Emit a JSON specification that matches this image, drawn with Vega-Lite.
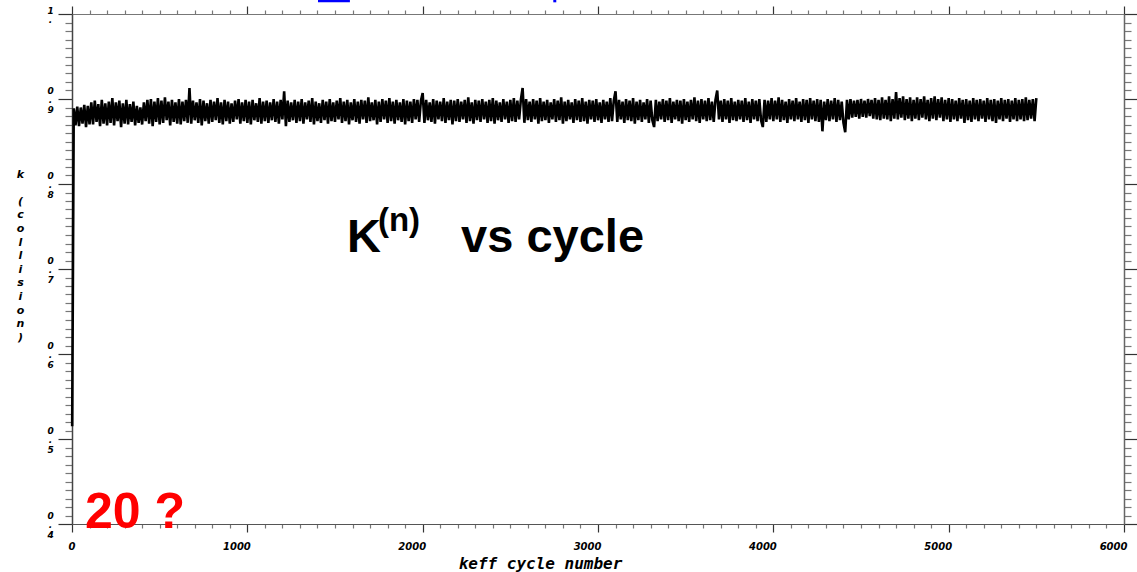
{
"$schema": "https://vega.github.io/schema/vega-lite/v6.json",
"width": 1052,
"height": 510,
"autosize": {"type": "none"},
"padding": {"left": 72, "top": 14, "right": 13, "bottom": 48},
"background": "white",
"config": {"view": {"stroke": null}},
"datasets": {
"keff": [
{"c":1,"k":0.515},
{"c":10,"k":0.889},{"c":20,"k":0.869},{"c":30,"k":0.891},{"c":40,"k":0.868},{"c":50,"k":0.890},{"c":60,"k":0.871},{"c":70,"k":0.893},{"c":80,"k":0.867},{"c":90,"k":0.892},{"c":100,"k":0.870},
{"c":110,"k":0.896},{"c":120,"k":0.870},{"c":130,"k":0.898},{"c":140,"k":0.873},{"c":150,"k":0.894},{"c":160,"k":0.868},{"c":170,"k":0.899},{"c":180,"k":0.871},{"c":190,"k":0.895},{"c":200,"k":0.869},
{"c":210,"k":0.897},{"c":220,"k":0.872},{"c":230,"k":0.901},{"c":240,"k":0.869},{"c":250,"k":0.896},{"c":260,"k":0.874},{"c":270,"k":0.898},{"c":280,"k":0.867},{"c":290,"k":0.895},{"c":300,"k":0.871},
{"c":310,"k":0.899},{"c":320,"k":0.870},{"c":330,"k":0.894},{"c":340,"k":0.873},{"c":350,"k":0.897},{"c":360,"k":0.869},{"c":370,"k":0.892},{"c":380,"k":0.872},{"c":390,"k":0.890},{"c":400,"k":0.870},
{"c":410,"k":0.896},{"c":420,"k":0.874},{"c":430,"k":0.899},{"c":440,"k":0.871},{"c":450,"k":0.900},{"c":460,"k":0.868},{"c":470,"k":0.897},{"c":480,"k":0.873},{"c":490,"k":0.901},{"c":500,"k":0.870},
{"c":510,"k":0.898},{"c":520,"k":0.872},{"c":530,"k":0.902},{"c":540,"k":0.875},{"c":550,"k":0.897},{"c":560,"k":0.869},{"c":570,"k":0.899},{"c":580,"k":0.873},{"c":590,"k":0.896},{"c":600,"k":0.871},
{"c":610,"k":0.900},{"c":620,"k":0.870},{"c":630,"k":0.897},{"c":640,"k":0.874},{"c":650,"k":0.899},{"c":660,"k":0.872},{"c":670,"k":0.913},{"c":680,"k":0.871},{"c":690,"k":0.898},{"c":700,"k":0.875},
{"c":710,"k":0.896},{"c":720,"k":0.872},{"c":730,"k":0.900},{"c":740,"k":0.869},{"c":750,"k":0.898},{"c":760,"k":0.874},{"c":770,"k":0.895},{"c":780,"k":0.871},{"c":790,"k":0.899},{"c":800,"k":0.873},
{"c":810,"k":0.897},{"c":820,"k":0.875},{"c":830,"k":0.901},{"c":840,"k":0.872},{"c":850,"k":0.896},{"c":860,"k":0.870},{"c":870,"k":0.899},{"c":880,"k":0.874},{"c":890,"k":0.897},{"c":900,"k":0.871},
{"c":910,"k":0.895},{"c":920,"k":0.873},{"c":930,"k":0.898},{"c":940,"k":0.876},{"c":950,"k":0.900},{"c":960,"k":0.871},{"c":970,"k":0.896},{"c":980,"k":0.874},{"c":990,"k":0.899},{"c":1000,"k":0.872},
{"c":1010,"k":0.897},{"c":1020,"k":0.870},{"c":1030,"k":0.899},{"c":1040,"k":0.875},{"c":1050,"k":0.895},{"c":1060,"k":0.873},{"c":1070,"k":0.901},{"c":1080,"k":0.871},{"c":1090,"k":0.897},{"c":1100,"k":0.874},
{"c":1110,"k":0.898},{"c":1120,"k":0.872},{"c":1130,"k":0.896},{"c":1140,"k":0.875},{"c":1150,"k":0.900},{"c":1160,"k":0.873},{"c":1170,"k":0.897},{"c":1180,"k":0.871},{"c":1190,"k":0.899},{"c":1200,"k":0.876},
{"c":1210,"k":0.909},{"c":1220,"k":0.868},{"c":1230,"k":0.898},{"c":1240,"k":0.873},{"c":1250,"k":0.896},{"c":1260,"k":0.875},{"c":1270,"k":0.899},{"c":1280,"k":0.872},{"c":1290,"k":0.897},{"c":1300,"k":0.874},
{"c":1310,"k":0.900},{"c":1320,"k":0.871},{"c":1330,"k":0.896},{"c":1340,"k":0.876},{"c":1350,"k":0.898},{"c":1360,"k":0.873},{"c":1370,"k":0.901},{"c":1380,"k":0.870},{"c":1390,"k":0.897},{"c":1400,"k":0.874},
{"c":1410,"k":0.895},{"c":1420,"k":0.872},{"c":1430,"k":0.899},{"c":1440,"k":0.875},{"c":1450,"k":0.897},{"c":1460,"k":0.871},{"c":1470,"k":0.900},{"c":1480,"k":0.874},{"c":1490,"k":0.896},{"c":1500,"k":0.873},
{"c":1510,"k":0.898},{"c":1520,"k":0.876},{"c":1530,"k":0.901},{"c":1540,"k":0.872},{"c":1550,"k":0.897},{"c":1560,"k":0.874},{"c":1570,"k":0.899},{"c":1580,"k":0.870},{"c":1590,"k":0.896},{"c":1600,"k":0.875},
{"c":1610,"k":0.900},{"c":1620,"k":0.873},{"c":1630,"k":0.897},{"c":1640,"k":0.871},{"c":1650,"k":0.899},{"c":1660,"k":0.876},{"c":1670,"k":0.898},{"c":1680,"k":0.872},{"c":1690,"k":0.902},{"c":1700,"k":0.874},
{"c":1710,"k":0.896},{"c":1720,"k":0.875},{"c":1730,"k":0.899},{"c":1740,"k":0.870},{"c":1750,"k":0.897},{"c":1760,"k":0.873},{"c":1770,"k":0.900},{"c":1780,"k":0.876},{"c":1790,"k":0.898},{"c":1800,"k":0.872},
{"c":1810,"k":0.901},{"c":1820,"k":0.874},{"c":1830,"k":0.897},{"c":1840,"k":0.871},{"c":1850,"k":0.899},{"c":1860,"k":0.875},{"c":1870,"k":0.896},{"c":1880,"k":0.873},{"c":1890,"k":0.900},{"c":1900,"k":0.870},
{"c":1910,"k":0.898},{"c":1920,"k":0.874},{"c":1930,"k":0.897},{"c":1940,"k":0.872},{"c":1950,"k":0.900},{"c":1960,"k":0.876},{"c":1970,"k":0.899},{"c":1980,"k":0.873},{"c":1990,"k":0.898},{"c":2000,"k":0.907},
{"c":2010,"k":0.872},{"c":2020,"k":0.899},{"c":2030,"k":0.875},{"c":2040,"k":0.896},{"c":2050,"k":0.873},{"c":2060,"k":0.900},{"c":2070,"k":0.871},{"c":2080,"k":0.898},{"c":2090,"k":0.876},{"c":2100,"k":0.897},
{"c":2110,"k":0.874},{"c":2120,"k":0.901},{"c":2130,"k":0.872},{"c":2140,"k":0.897},{"c":2150,"k":0.875},{"c":2160,"k":0.899},{"c":2170,"k":0.870},{"c":2180,"k":0.898},{"c":2190,"k":0.874},{"c":2200,"k":0.900},
{"c":2210,"k":0.873},{"c":2220,"k":0.897},{"c":2230,"k":0.876},{"c":2240,"k":0.899},{"c":2250,"k":0.872},{"c":2260,"k":0.902},{"c":2270,"k":0.874},{"c":2280,"k":0.896},{"c":2290,"k":0.871},{"c":2300,"k":0.899},
{"c":2310,"k":0.875},{"c":2320,"k":0.898},{"c":2330,"k":0.873},{"c":2340,"k":0.900},{"c":2350,"k":0.876},{"c":2360,"k":0.897},{"c":2370,"k":0.872},{"c":2380,"k":0.899},{"c":2390,"k":0.874},{"c":2400,"k":0.901},
{"c":2410,"k":0.871},{"c":2420,"k":0.898},{"c":2430,"k":0.875},{"c":2440,"k":0.896},{"c":2450,"k":0.873},{"c":2460,"k":0.900},{"c":2470,"k":0.876},{"c":2480,"k":0.897},{"c":2490,"k":0.872},{"c":2500,"k":0.899},
{"c":2510,"k":0.874},{"c":2520,"k":0.901},{"c":2530,"k":0.873},{"c":2540,"k":0.898},{"c":2550,"k":0.876},{"c":2560,"k":0.899},{"c":2570,"k":0.913},{"c":2580,"k":0.872},{"c":2590,"k":0.900},{"c":2600,"k":0.875},
{"c":2610,"k":0.897},{"c":2620,"k":0.873},{"c":2630,"k":0.900},{"c":2640,"k":0.876},{"c":2650,"k":0.898},{"c":2660,"k":0.871},{"c":2670,"k":0.901},{"c":2680,"k":0.874},{"c":2690,"k":0.897},{"c":2700,"k":0.875},
{"c":2710,"k":0.899},{"c":2720,"k":0.872},{"c":2730,"k":0.896},{"c":2740,"k":0.876},{"c":2750,"k":0.900},{"c":2760,"k":0.873},{"c":2770,"k":0.898},{"c":2780,"k":0.875},{"c":2790,"k":0.902},{"c":2800,"k":0.871},
{"c":2810,"k":0.897},{"c":2820,"k":0.874},{"c":2830,"k":0.899},{"c":2840,"k":0.876},{"c":2850,"k":0.896},{"c":2860,"k":0.872},{"c":2870,"k":0.900},{"c":2880,"k":0.875},{"c":2890,"k":0.898},{"c":2900,"k":0.873},
{"c":2910,"k":0.901},{"c":2920,"k":0.874},{"c":2930,"k":0.897},{"c":2940,"k":0.871},{"c":2950,"k":0.899},{"c":2960,"k":0.876},{"c":2970,"k":0.898},{"c":2980,"k":0.873},{"c":2990,"k":0.900},{"c":3000,"k":0.875},
{"c":3010,"k":0.896},{"c":3020,"k":0.872},{"c":3030,"k":0.899},{"c":3040,"k":0.876},{"c":3050,"k":0.897},{"c":3060,"k":0.873},{"c":3070,"k":0.901},{"c":3080,"k":0.874},{"c":3090,"k":0.898},{"c":3100,"k":0.909},
{"c":3110,"k":0.873},{"c":3120,"k":0.899},{"c":3130,"k":0.876},{"c":3140,"k":0.897},{"c":3150,"k":0.872},{"c":3160,"k":0.900},{"c":3170,"k":0.875},{"c":3180,"k":0.898},{"c":3190,"k":0.874},{"c":3200,"k":0.901},
{"c":3210,"k":0.871},{"c":3220,"k":0.897},{"c":3230,"k":0.875},{"c":3240,"k":0.899},{"c":3250,"k":0.873},{"c":3260,"k":0.896},{"c":3270,"k":0.876},{"c":3280,"k":0.900},{"c":3290,"k":0.872},{"c":3300,"k":0.898},
{"c":3310,"k":0.875},{"c":3320,"k":0.867},{"c":3330,"k":0.899},{"c":3340,"k":0.874},{"c":3350,"k":0.897},{"c":3360,"k":0.876},{"c":3370,"k":0.900},{"c":3380,"k":0.873},{"c":3390,"k":0.898},{"c":3400,"k":0.875},
{"c":3410,"k":0.901},{"c":3420,"k":0.872},{"c":3430,"k":0.897},{"c":3440,"k":0.876},{"c":3450,"k":0.899},{"c":3460,"k":0.874},{"c":3470,"k":0.898},{"c":3480,"k":0.871},{"c":3490,"k":0.900},{"c":3500,"k":0.875},
{"c":3510,"k":0.897},{"c":3520,"k":0.873},{"c":3530,"k":0.899},{"c":3540,"k":0.876},{"c":3550,"k":0.902},{"c":3560,"k":0.874},{"c":3570,"k":0.898},{"c":3580,"k":0.872},{"c":3590,"k":0.900},{"c":3600,"k":0.876},
{"c":3610,"k":0.898},{"c":3620,"k":0.874},{"c":3630,"k":0.901},{"c":3640,"k":0.875},{"c":3650,"k":0.897},{"c":3660,"k":0.873},{"c":3670,"k":0.899},{"c":3680,"k":0.910},{"c":3690,"k":0.876},{"c":3700,"k":0.898},
{"c":3710,"k":0.873},{"c":3720,"k":0.900},{"c":3730,"k":0.876},{"c":3740,"k":0.898},{"c":3750,"k":0.872},{"c":3760,"k":0.901},{"c":3770,"k":0.875},{"c":3780,"k":0.897},{"c":3790,"k":0.874},{"c":3800,"k":0.899},
{"c":3810,"k":0.876},{"c":3820,"k":0.898},{"c":3830,"k":0.873},{"c":3840,"k":0.901},{"c":3850,"k":0.875},{"c":3860,"k":0.897},{"c":3870,"k":0.872},{"c":3880,"k":0.900},{"c":3890,"k":0.876},{"c":3900,"k":0.898},
{"c":3910,"k":0.874},{"c":3920,"k":0.900},{"c":3930,"k":0.875},{"c":3940,"k":0.867},{"c":3950,"k":0.899},{"c":3960,"k":0.873},{"c":3970,"k":0.898},{"c":3980,"k":0.876},{"c":3990,"k":0.901},{"c":4000,"k":0.874},
{"c":4010,"k":0.898},{"c":4020,"k":0.876},{"c":4030,"k":0.902},{"c":4040,"k":0.873},{"c":4050,"k":0.899},{"c":4060,"k":0.875},{"c":4070,"k":0.897},{"c":4080,"k":0.872},{"c":4090,"k":0.900},{"c":4100,"k":0.876},
{"c":4110,"k":0.898},{"c":4120,"k":0.874},{"c":4130,"k":0.901},{"c":4140,"k":0.876},{"c":4150,"k":0.897},{"c":4160,"k":0.873},{"c":4170,"k":0.900},{"c":4180,"k":0.875},{"c":4190,"k":0.899},{"c":4200,"k":0.872},
{"c":4210,"k":0.901},{"c":4220,"k":0.876},{"c":4230,"k":0.898},{"c":4240,"k":0.874},{"c":4250,"k":0.900},{"c":4260,"k":0.873},{"c":4270,"k":0.899},{"c":4280,"k":0.862},{"c":4290,"k":0.897},{"c":4300,"k":0.875},
{"c":4310,"k":0.900},{"c":4320,"k":0.874},{"c":4330,"k":0.898},{"c":4340,"k":0.876},{"c":4350,"k":0.901},{"c":4360,"k":0.873},{"c":4370,"k":0.899},{"c":4380,"k":0.875},{"c":4390,"k":0.897},{"c":4400,"k":0.872},
{"c":4410,"k":0.861},{"c":4420,"k":0.899},{"c":4430,"k":0.876},{"c":4440,"k":0.900},{"c":4450,"k":0.878},{"c":4460,"k":0.898},{"c":4470,"k":0.879},{"c":4480,"k":0.899},{"c":4490,"k":0.877},{"c":4500,"k":0.900},
{"c":4510,"k":0.879},{"c":4520,"k":0.898},{"c":4530,"k":0.878},{"c":4540,"k":0.900},{"c":4550,"k":0.880},{"c":4560,"k":0.899},{"c":4570,"k":0.877},{"c":4580,"k":0.901},{"c":4590,"k":0.876},{"c":4600,"k":0.899},
{"c":4610,"k":0.875},{"c":4620,"k":0.902},{"c":4630,"k":0.877},{"c":4640,"k":0.899},{"c":4650,"k":0.876},{"c":4660,"k":0.903},{"c":4670,"k":0.874},{"c":4680,"k":0.900},{"c":4690,"k":0.877},{"c":4700,"k":0.908},
{"c":4710,"k":0.876},{"c":4720,"k":0.901},{"c":4730,"k":0.878},{"c":4740,"k":0.903},{"c":4750,"k":0.875},{"c":4760,"k":0.900},{"c":4770,"k":0.877},{"c":4780,"k":0.902},{"c":4790,"k":0.874},{"c":4800,"k":0.899},
{"c":4810,"k":0.877},{"c":4820,"k":0.902},{"c":4830,"k":0.875},{"c":4840,"k":0.900},{"c":4850,"k":0.878},{"c":4860,"k":0.903},{"c":4870,"k":0.876},{"c":4880,"k":0.899},{"c":4890,"k":0.874},{"c":4900,"k":0.901},
{"c":4910,"k":0.877},{"c":4920,"k":0.903},{"c":4930,"k":0.875},{"c":4940,"k":0.900},{"c":4950,"k":0.878},{"c":4960,"k":0.902},{"c":4970,"k":0.874},{"c":4980,"k":0.899},{"c":4990,"k":0.876},{"c":5000,"k":0.901},
{"c":5010,"k":0.873},{"c":5020,"k":0.900},{"c":5030,"k":0.876},{"c":5040,"k":0.898},{"c":5050,"k":0.874},{"c":5060,"k":0.901},{"c":5070,"k":0.877},{"c":5080,"k":0.899},{"c":5090,"k":0.872},{"c":5100,"k":0.900},
{"c":5110,"k":0.875},{"c":5120,"k":0.898},{"c":5130,"k":0.873},{"c":5140,"k":0.901},{"c":5150,"k":0.876},{"c":5160,"k":0.899},{"c":5170,"k":0.874},{"c":5180,"k":0.900},{"c":5190,"k":0.877},{"c":5200,"k":0.898},
{"c":5210,"k":0.873},{"c":5220,"k":0.901},{"c":5230,"k":0.876},{"c":5240,"k":0.899},{"c":5250,"k":0.874},{"c":5260,"k":0.900},{"c":5270,"k":0.872},{"c":5280,"k":0.898},{"c":5290,"k":0.876},{"c":5300,"k":0.901},
{"c":5310,"k":0.874},{"c":5320,"k":0.899},{"c":5330,"k":0.877},{"c":5340,"k":0.900},{"c":5350,"k":0.873},{"c":5360,"k":0.898},{"c":5370,"k":0.876},{"c":5380,"k":0.901},{"c":5390,"k":0.874},{"c":5400,"k":0.899},
{"c":5410,"k":0.876},{"c":5420,"k":0.900},{"c":5430,"k":0.874},{"c":5440,"k":0.902},{"c":5450,"k":0.875},{"c":5460,"k":0.899},{"c":5470,"k":0.877},{"c":5480,"k":0.900},{"c":5490,"k":0.874},{"c":5500,"k":0.901}
],
"links": [
{"x1": 1403, "x2": 1585, "y": 1.0155},
{"x1": 2745, "x2": 2762, "y": 1.0155}
]
},
"resolve": {"axis": {"x": "independent", "y": "independent"}},
"layer": [
{
"data": {"name": "keff"},
"mark": {"type": "line", "color": "#000000", "strokeWidth": 2.6, "interpolate": "linear"},
"encoding": {
"x": {"field": "c", "type": "quantitative",
"scale": {"domain": [0, 6000], "nice": false, "zero": false},
"axis": {
"orient": "bottom",
"values": [0,100,200,300,400,500,600,700,800,900,1000,1100,1200,1300,1400,1500,1600,1700,1800,1900,2000,2100,2200,2300,2400,2500,2600,2700,2800,2900,3000,3100,3200,3300,3400,3500,3600,3700,3800,3900,4000,4100,4200,4300,4400,4500,4600,4700,4800,4900,5000,5100,5200,5300,5400,5500,5600,5700,5800,5900,6000],
"format": "d",
"labelExpr": "datum.value % 1000 == 0 ? datum.label : ''",
"tickSize": {"condition": {"test": "datum.value % 1000 == 0", "value": 8}, "value": 4},
"tickColor": {"condition": {"test": "datum.value % 1000 == 0", "value": "#333333"}, "value": "#777777"},
"tickWidth": 1.2,
"domainColor": "#555555", "domainWidth": 1.2,
"grid": false,
"labelFont": "DejaVu Sans", "labelFontStyle": "italic", "labelFontWeight": "bold", "labelFontSize": 10, "labelColor": "#000000",
"labelAlign": "right", "labelOffset": 3, "labelPadding": 9, "labelBaseline": "top",
"labelFlush": false, "labelOverlap": false, "labelBound": false,
"title": "keff cycle number",
"titleFont": "DejaVu Sans Mono", "titleFontStyle": "italic", "titleFontWeight": "bold", "titleFontSize": 16, "titleColor": "#000000",
"titleAlign": "center", "titleBaseline": "alphabetic", "titleX": 468, "titleY": 44
}
},
"y": {"field": "k", "type": "quantitative",
"scale": {"domain": [0.4, 1.0], "nice": false, "zero": false},
"axis": {
"orient": "left",
"values": [0.4,0.41,0.42,0.43,0.44,0.45,0.46,0.47,0.48,0.49,0.5,0.51,0.52,0.53,0.54,0.55,0.56,0.57,0.58,0.59,0.6,0.61,0.62,0.63,0.64,0.65,0.66,0.67,0.68,0.69,0.7,0.71,0.72,0.73,0.74,0.75,0.76,0.77,0.78,0.79,0.8,0.81,0.82,0.83,0.84,0.85,0.86,0.87,0.88,0.89,0.9,0.91,0.92,0.93,0.94,0.95,0.96,0.97,0.98,0.99,1.0],
"labelExpr": "abs(datum.value*10 - round(datum.value*10)) < 0.001 ? (datum.value > 0.99 ? ['1','.'] : ['0','.', '' + round(datum.value*10)]) : ''",
"tickSize": {"condition": {"test": "abs(datum.value*10 - round(datum.value*10)) < 0.001", "value": 14}, "value": 7},
"tickColor": {"condition": {"test": "abs(datum.value*10 - round(datum.value*10)) < 0.001", "value": "#333333"}, "value": "#777777"},
"tickWidth": 1.2,
"domainColor": "#444444", "domainWidth": 1.5,
"grid": false,
"labelFont": "DejaVu Sans", "labelFontStyle": "italic", "labelFontWeight": "bold", "labelFontSize": 9, "labelColor": "#000000",
"labelAlign": "center", "labelBaseline": "middle", "labelLineHeight": 9.5, "labelPadding": 8,
"labelOffset": {"condition": {"test": "datum.value > 0.99", "value": -4}, "value": -9},
"labelFlush": false, "labelOverlap": false, "labelBound": false,
"title": ["k", "\u2800", "(", "c", "o", "l", "l", "i", "s", "i", "o", "n", ")"],
"titleFont": "DejaVu Sans", "titleFontStyle": "italic", "titleFontWeight": "bold", "titleFontSize": 11, "titleColor": "#000000",
"titleAngle": 0, "titleAlign": "center", "titleBaseline": "top", "titleLineHeight": 13.6, "titleX": -52, "titleY": 154
}
}
}
},
{
"data": {"values": [{}]},
"mark": {"type": "text", "font": "Liberation Sans", "fontWeight": "bold", "fontSize": 47, "color": "#000000", "align": "left", "baseline": "alphabetic"},
"encoding": {
"x": {"datum": 1568, "type": "quantitative", "scale": {"domain": [0, 6000], "nice": false, "zero": false},
"axis": {
"orient": "top",
"values": [0,100,200,300,400,500,600,700,800,900,1000,1100,1200,1300,1400,1500,1600,1700,1800,1900,2000,2100,2200,2300,2400,2500,2600,2700,2800,2900,3000,3100,3200,3300,3400,3500,3600,3700,3800,3900,4000,4100,4200,4300,4400,4500,4600,4700,4800,4900,5000,5100,5200,5300,5400,5500,5600,5700,5800,5900,6000],
"labels": false, "title": null, "grid": false,
"tickSize": {"condition": {"test": "datum.value % 1000 == 0", "value": 8}, "value": 4},
"tickColor": {"condition": {"test": "datum.value % 1000 == 0", "value": "#333333"}, "value": "#777777"},
"tickWidth": 1.2, "domainColor": "#777777", "domainWidth": 1.2
}
},
"y": {"datum": 0.72, "type": "quantitative", "scale": {"domain": [0.4, 1.0], "nice": false, "zero": false},
"axis": {
"orient": "right",
"values": [0.4,0.41,0.42,0.43,0.44,0.45,0.46,0.47,0.48,0.49,0.5,0.51,0.52,0.53,0.54,0.55,0.56,0.57,0.58,0.59,0.6,0.61,0.62,0.63,0.64,0.65,0.66,0.67,0.68,0.69,0.7,0.71,0.72,0.73,0.74,0.75,0.76,0.77,0.78,0.79,0.8,0.81,0.82,0.83,0.84,0.85,0.86,0.87,0.88,0.89,0.9,0.91,0.92,0.93,0.94,0.95,0.96,0.97,0.98,0.99,1.0],
"labels": false, "title": null, "grid": false,
"tickSize": {"condition": {"test": "abs(datum.value*10 - round(datum.value*10)) < 0.001", "value": 13}, "value": 7},
"tickColor": {"condition": {"test": "abs(datum.value*10 - round(datum.value*10)) < 0.001", "value": "#333333"}, "value": "#777777"},
"tickWidth": 1.2, "domainColor": "#666666", "domainWidth": 1.5
}
},
"text": {"value": "K"}
}
},
{
"data": {"values": [{}]},
"mark": {"type": "text", "font": "Liberation Sans", "fontWeight": "bold", "fontSize": 33, "color": "#000000", "align": "left", "baseline": "alphabetic"},
"encoding": {
"x": {"datum": 1745, "type": "quantitative", "axis": null},
"y": {"datum": 0.745, "type": "quantitative", "axis": null},
"text": {"value": "(n)"}
}
},
{
"data": {"values": [{}]},
"mark": {"type": "text", "font": "Liberation Sans", "fontWeight": "bold", "fontSize": 47, "color": "#000000", "align": "left", "baseline": "alphabetic"},
"encoding": {
"x": {"datum": 2219, "type": "quantitative", "axis": null},
"y": {"datum": 0.72, "type": "quantitative", "axis": null},
"text": {"value": "vs cycle"}
}
},
{
"data": {"values": [{}]},
"mark": {"type": "text", "font": "Liberation Sans", "fontWeight": "bold", "fontSize": 50, "color": "#ff0000", "align": "left", "baseline": "alphabetic"},
"encoding": {
"x": {"datum": 74, "type": "quantitative", "axis": null},
"y": {"datum": 0.3953, "type": "quantitative", "axis": null},
"text": {"value": "20 ?"}
}
},
{
"data": {"name": "links"},
"mark": {"type": "rule", "color": "#0000ff", "strokeWidth": 3},
"encoding": {
"x": {"field": "x1", "type": "quantitative", "axis": null},
"x2": {"field": "x2"},
"y": {"field": "y", "type": "quantitative", "axis": null}
}
}
]
}
